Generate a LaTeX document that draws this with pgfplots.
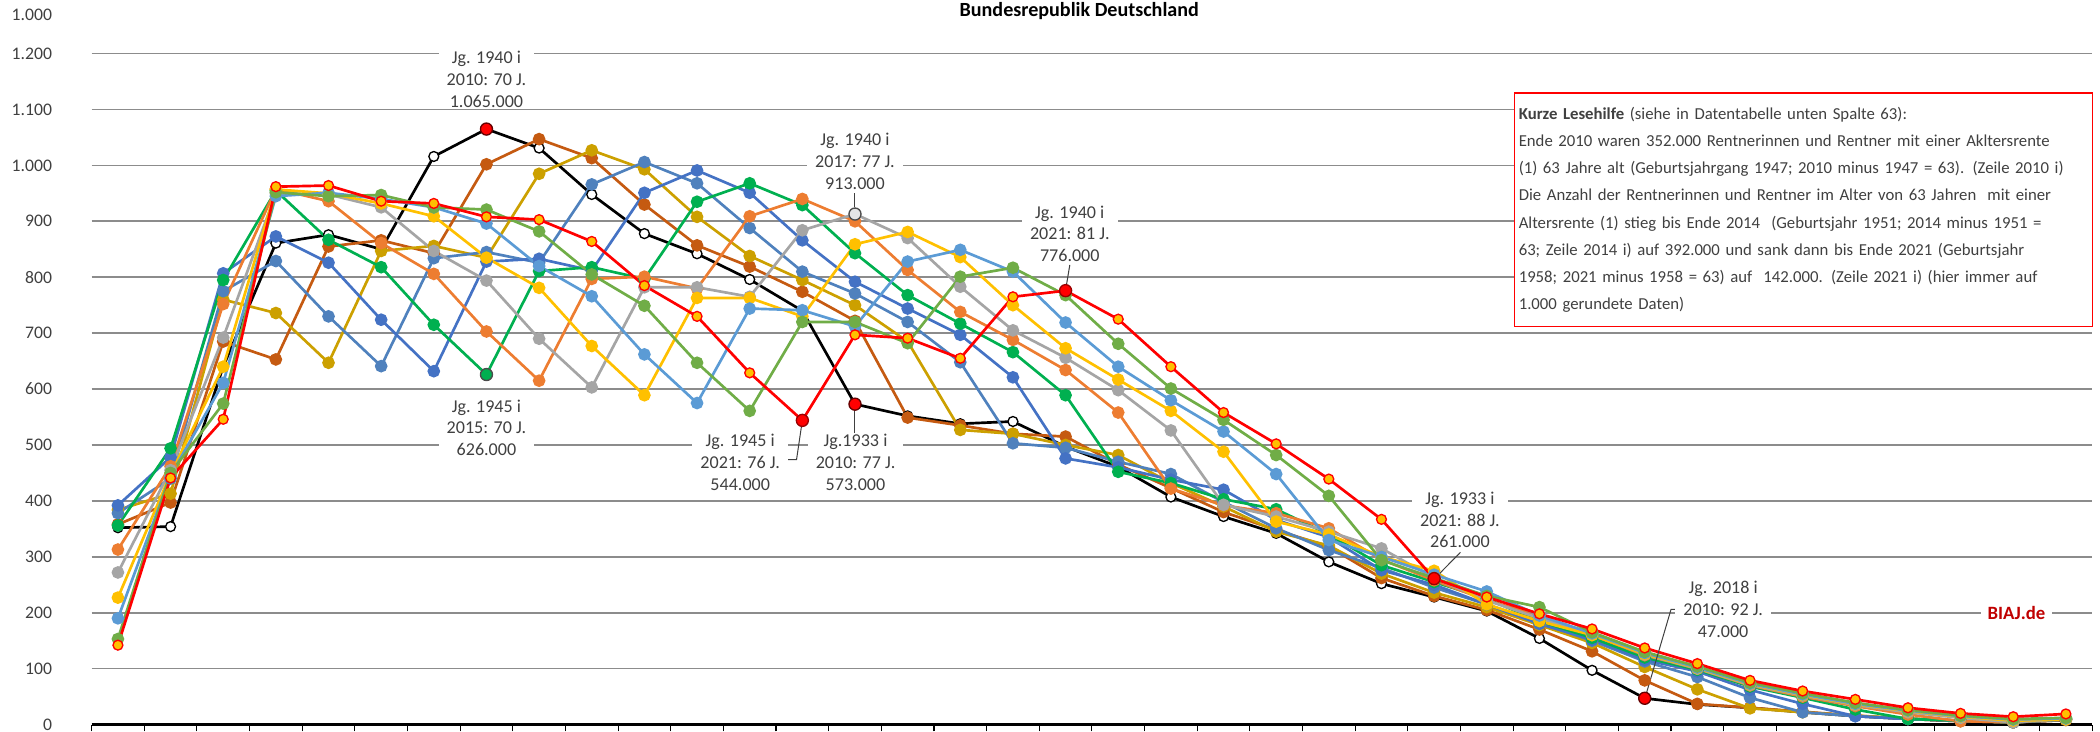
\documentclass[border=0pt]{standalone}
\usepackage{pgfplots}
\usepackage{pgfplotstable}
\pgfplotsset{compat=1.18}
\usepackage{fontspec}
\setmainfont{Carlito}
\definecolor{cS11}{HTML}{C55A11}
\definecolor{cS12}{HTML}{CCA000}
\definecolor{cS13}{HTML}{4F81BD}
\definecolor{cS14}{HTML}{4472C4}
\definecolor{cS15}{HTML}{00B050}
\definecolor{cS16}{HTML}{ED7D31}
\definecolor{cS17}{HTML}{A5A5A5}
\definecolor{cS18}{HTML}{FFC000}
\definecolor{cS19}{HTML}{5B9BD5}
\definecolor{cS20}{HTML}{70AD47}
\definecolor{cRed}{HTML}{FF0000}
\definecolor{biaj}{HTML}{C00000}
\definecolor{gridc}{HTML}{8C8C8C}
\definecolor{txt}{HTML}{404040}
\tikzset{lab/.style={fill=white, align=center, text=txt, font=\fontsize{13.5}{16.2}\selectfont, inner xsep=6pt, inner ysep=1pt}}

\pgfplotstableread{
x s10 s11 s12 s13 s14 s15 s16 s17 s18 s19 s20 s21
0 352 358 384 378 392 356 313 272 227 190 153 142
1 354 397 413 440 478 494 462 455 448 445 450 441
2 640 685 760 775 807 795 752 692 640 611 574 546
3 861 653 736 829 873 955 958 950 957 945 952 962
4 876 855 647 730 826 867 936 948 950 951 945 964
5 850 866 847 641 724 818 861 925 932 940 947 936
6 1016 843 856 834 632 715 806 847 909 925 925 932
7 1065 1002 835 845 828 626 703 794 835 896 921 908
8 1031 1047 985 826 833 811 615 690 781 820 882 903
9 948 1013 1027 966 812 818 797 603 677 766 805 864
10 878 930 993 1006 951 797 801 782 589 662 749 785
11 842 857 908 968 991 935 780 782 763 575 647 730
12 796 819 838 888 951 968 909 765 763 744 561 629
13 740 774 795 810 866 929 940 884 730 741 720 544
14 573 722 750 771 792 843 900 913 859 712 720 697
15 552 549 685 720 744 768 813 870 881 828 682 691
16 538 535 527 648 697 717 738 783 836 849 801 655
17 542 520 520 503 621 666 688 705 750 810 817 765
18 497 515 500 495 476 589 634 656 673 719 768 776
19 461 465 482 470 460 452 558 598 617 640 681 725
20 407 423 432 448 438 432 422 526 561 580 601 640
21 372 380 390 398 420 403 392 393 488 524 545 558
22 342 348 345 351 366 385 378 372 363 448 482 502
23 291 318 320 312 335 340 351 345 340 330 409 439
24 252 262 270 280 276 285 295 315 300 300 294 367
25 228 230 236 245 250 255 258 262 275 268 262 261
26 203 205 210 215 215 225 222 222 215 238 230 228
27 154 170 178 182 180 185 195 190 185 195 210 198
28 97 131 146 150 152 155 160 162 160 163 165 171
29 47 79 103 113 116 120 124 125 126 128 130 137
30 36 37 63 85 95 98 100 100 101 102 104 109
31 30 30 29 48 62 68 70 71 72 73 75 79
32 22 23 22 22 37 48 50 52 53 54 56 60
33 15 16 16 15 15 27 33 35 36 37 39 45
34 10 10 11 10 10 10 18 22 24 25 26 30
35 6 6 7 7 7 7 6 12 14 15 16 20
36 4 4 4 4 4 4 4 4 7 9 10 14
37 8 8 9 9 9 10 10 10 9 11 12 19
}\data

\begin{document}
\begin{tikzpicture}
\begin{axis}[
  scale only axis, width=1493.8pt, height=529.8pt,
  xmin=-0.5, xmax=37.5, ymin=0, ymax=1269,
  clip=false,
  axis x line*=bottom, axis y line*=left,
  x axis line style={-, black, line width=2.5pt},
  y axis line style={draw=none},
  xtick={-0.5,0.5,...,37.5}, xticklabels={},
  xtick style={black, line width=0.8pt},
  tick align=outside, major tick length=5pt,
  ytick={0,100,...,1200},
  ytick style={draw=none},
  ymajorgrids, major grid style={gridc, line width=1.25pt},
  extra y ticks={1269}, extra y tick labels={1.000}, extra y tick style={grid=none, ytick style={draw=none}},
  yticklabel style={font=\fontsize{13.2}{16}\selectfont, text=txt, anchor=east, xshift=-21pt},
  /pgf/number format/1000 sep={.},
  /pgf/number format/assume math mode=true,
  every axis plot/.append style={line width=2pt, mark=*, mark size=3.7pt},
]
\addplot[black, mark options={fill=white, draw=black, line width=1pt}] table[x=x,y=s10]{\data};
\addplot[cS11, mark options={fill=cS11}] table[x=x,y=s11]{\data};
\addplot[cS12, mark options={fill=cS12}] table[x=x,y=s12]{\data};
\addplot[cS13, mark options={fill=cS13}] table[x=x,y=s13]{\data};
\addplot[cS14, mark options={fill=cS14}] table[x=x,y=s14]{\data};
\addplot[cS15, mark options={fill=cS15}] table[x=x,y=s15]{\data};
\addplot[cS16, mark options={fill=cS16}] table[x=x,y=s16]{\data};
\addplot[cS17, mark options={fill=cS17}] table[x=x,y=s17]{\data};
\addplot[cS18, mark options={fill=cS18}] table[x=x,y=s18]{\data};
\addplot[cS19, mark options={fill=cS19}] table[x=x,y=s19]{\data};
\addplot[cS20, mark options={fill=cS20}] table[x=x,y=s20]{\data};
\addplot[cRed, mark options={fill=cS18, draw=cRed, line width=1pt}] table[x=x,y=s21]{\data};
% highlighted points
\addplot[only marks, mark size=4.5pt, mark options={fill=red, draw=black!60!red, line width=1pt}] coordinates {(7,1065) (14,573) (29,47)};
\addplot[only marks, mark size=4.5pt, mark options={fill=cS15, draw=black!70, line width=1pt}] coordinates {(7,626)};
\addplot[only marks, mark size=4.5pt, mark options={fill=black!10, draw=black!70, line width=1pt}] coordinates {(14,913)};
\addplot[only marks, mark size=4.5pt, mark options={fill=red, draw=black!40!red, line width=1pt}] coordinates {(13,544) (18,776) (25,261)};
% leader lines
\draw[txt, line width=0.75pt] (axis cs:14,950) -- (axis cs:14,925);
\draw[txt, line width=0.75pt] (axis cs:18.08,822) -- (axis cs:18.02,788);
\draw[txt, line width=0.75pt] (axis cs:13,544) -- (axis cs:12.89,474) -- (axis cs:12.72,474);
\draw[txt, line width=0.75pt] (axis cs:14,573) -- (axis cs:14,515);
\draw[txt, line width=0.75pt] (axis cs:25.5,308) -- (axis cs:25.05,265);
\draw[txt, line width=0.75pt] (axis cs:29.02,52) -- (axis cs:29.5,206) -- (axis cs:29.7,206);
% labels
\node[lab] at (axis cs:7,1154) {Jg. 1940 i\\2010: 70 J.\\1.065.000};
\node[lab] at (axis cs:7,531) {Jg. 1945 i\\2015: 70 J.\\626.000};
\node[lab] at (axis cs:14,1007) {Jg. 1940 i\\2017: 77 J.\\913.000};
\node[lab] at (axis cs:18.08,878) {Jg. 1940 i\\2021: 81 J.\\776.000};
\node[lab] at (axis cs:11.82,469) {Jg. 1945 i\\2021: 76 J.\\544.000};
\node[lab] at (axis cs:14.01,469) {Jg.1933 i\\2010: 77 J.\\573.000};
\node[lab] at (axis cs:25.49,366) {Jg. 1933 i\\2021: 88 J.\\261.000};
\node[lab] at (axis cs:30.49,206) {Jg. 2018 i\\2010: 92 J.\\47.000};
\node[fill=white, text=biaj, font=\bfseries\fontsize{14}{16}\selectfont, inner xsep=5pt, inner ysep=1pt] at (axis cs:36.06,199) {BIAJ.de};
% title
\node[font=\bfseries\fontsize{15}{17}\selectfont] at (axis cs:18.26,1276.6) {Bundesrepublik Deutschland};
% text box
\node[draw=red, line width=1.2pt, fill=white, anchor=north west, minimum width=431.5pt, minimum height=174.3pt, text width=425pt, align=left, inner xsep=3.25pt, inner ysep=4pt, text=txt, font=\fontsize{12.5}{20.3}\selectfont] at (axis cs:26.51,1130.7) {\textbf{Kurze Lesehilfe} (siehe in Datentabelle unten Spalte 63):\\
Ende 2010 waren 352.000 Rentnerinnen und Rentner mit einer Akltersrente\\
(1) 63 Jahre alt (Geburtsjahrgang 1947; 2010 minus 1947 = 63). (Zeile 2010 i)\\
Die Anzahl der Rentnerinnen und Rentner im Alter von 63 Jahren\ \ mit einer\\
Altersrente (1) stieg bis Ende 2014\ \ (Geburtsjahr 1951; 2014 minus 1951 =\\
63; Zeile 2014 i) auf 392.000 und sank dann bis Ende 2021 (Geburtsjahr\\
1958; 2021 minus 1958 = 63) auf\ \ 142.000. (Zeile 2021 i) (hier immer auf\\
1.000 gerundete Daten)};
\end{axis}
\pgfresetboundingbox
\path[use as bounding box] (-68.4pt,-5pt) rectangle (1499.6pt,541pt);
\end{tikzpicture}
\end{document}
